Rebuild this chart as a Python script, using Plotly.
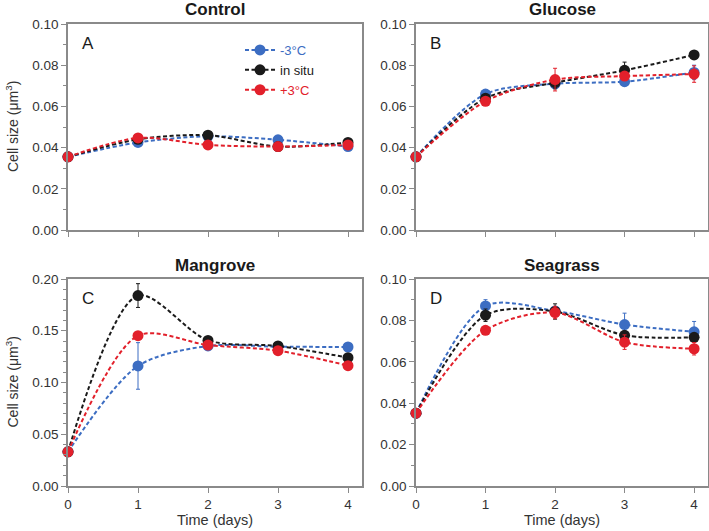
import plotly.graph_objects as go

days = [0, 1, 2, 3, 4]
series_names = ["-3°C", "in situ", "+3°C"]
colors = ["#3C6DC2", "#1A1A1A", "#E2202B"]

panel_titles = ["Control", "Glucose", "Mangrove", "Seagrass"]
panel_letters = ["A", "B", "C", "D"]

# Control
control_m3 = [0.0355, 0.0425, 0.0455, 0.0438, 0.0405]
control_is = [0.0355, 0.0440, 0.0460, 0.0405, 0.0425]
control_p3 = [0.0355, 0.0447, 0.0413, 0.0405, 0.0413]
control_err_m3 = [0.0005, 0.0008, 0.0008, 0.0006, 0.0006]
control_err_is = [0.0005, 0.0008, 0.0008, 0.0006, 0.0006]
control_err_p3 = [0.0005, 0.0008, 0.0008, 0.0006, 0.0006]

# Glucose
glucose_m3 = [0.0355, 0.0660, 0.0710, 0.0720, 0.0765]
glucose_is = [0.0355, 0.0640, 0.0715, 0.0775, 0.0850]
glucose_p3 = [0.0355, 0.0625, 0.0730, 0.0747, 0.0757]
glucose_err_m3 = [0.0005, 0.0015, 0.0015, 0.0010, 0.0035]
glucose_err_is = [0.0005, 0.0015, 0.0030, 0.0040, 0.0010]
glucose_err_p3 = [0.0005, 0.0010, 0.0055, 0.0015, 0.0040]

# Mangrove
mangrove_m3 = [0.0330, 0.1160, 0.1353, 0.1346, 0.1343]
mangrove_is = [0.0330, 0.1840, 0.1407, 0.1353, 0.1240]
mangrove_p3 = [0.0330, 0.1452, 0.1362, 0.1307, 0.1163]
mangrove_err_m3 = [0.0010, 0.0225, 0.0020, 0.0015, 0.0015]
mangrove_err_is = [0.0010, 0.0115, 0.0020, 0.0015, 0.0020]
mangrove_err_p3 = [0.0010, 0.0020, 0.0020, 0.0015, 0.0015]

# Seagrass
seagrass_m3 = [0.0352, 0.0870, 0.0846, 0.0780, 0.0745]
seagrass_is = [0.0352, 0.0825, 0.0843, 0.0728, 0.0718]
seagrass_p3 = [0.0352, 0.0752, 0.0838, 0.0695, 0.0663]
seagrass_err_m3 = [0.0005, 0.0030, 0.0020, 0.0055, 0.0050]
seagrass_err_is = [0.0005, 0.0030, 0.0037, 0.0015, 0.0015]
seagrass_err_p3 = [0.0005, 0.0015, 0.0030, 0.0035, 0.0030]

panels = [
    ([control_m3, control_is, control_p3], [control_err_m3, control_err_is, control_err_p3]),
    ([glucose_m3, glucose_is, glucose_p3], [glucose_err_m3, glucose_err_is, glucose_err_p3]),
    ([mangrove_m3, mangrove_is, mangrove_p3], [mangrove_err_m3, mangrove_err_is, mangrove_err_p3]),
    ([seagrass_m3, seagrass_is, seagrass_p3], [seagrass_err_m3, seagrass_err_is, seagrass_err_p3]),
]

y_ranges = [[0, 0.1], [0, 0.1], [0, 0.2], [0, 0.1]]
y_dticks = [0.02, 0.02, 0.05, 0.02]
y_minor = [0.01, 0.01, 0.01, 0.01]
x_tick_labels = ["0", "1", "2", "3", "4"]

W, H = 709, 531
xdom = [[68 / W, 362 / W], [416 / W, 708 / W], [68 / W, 362 / W], [416 / W, 708 / W]]
ydom = [[1 - 230 / H, 1 - 24 / H], [1 - 230 / H, 1 - 24 / H],
        [1 - 486 / H, 1 - 279 / H], [1 - 486 / H, 1 - 279 / H]]

fig = go.Figure()
font_family = "Liberation Sans, Arial, sans-serif"
axis_col = "#8a8a8a"
text_col = "#333333"

for p, (vals, errs) in enumerate(panels):
    ax = "" if p == 0 else str(p + 1)
    for s in range(3):
        fig.add_trace(go.Scatter(
            x=days, y=vals[s],
            xaxis="x" + ax, yaxis="y" + ax,
            mode="lines+markers",
            name='<span style="color:%s">%s</span>' % (colors[s], series_names[s]),
            showlegend=(p == 0),
            line=dict(color=colors[s], width=2, dash="4px,2.5px", shape="spline", smoothing=0.85),
            marker=dict(color=colors[s], size=11),
            error_y=dict(type="data", array=errs[s], color=colors[s], thickness=1, width=2),
            cliponaxis=False,
        ))

layout = dict(
    template="none",
    width=W, height=H,
    margin=dict(l=0, r=0, t=0, b=0, autoexpand=False),
    paper_bgcolor="white", plot_bgcolor="white",
    font=dict(family=font_family, size=13, color=text_col),
    legend=dict(x=240 / W, y=1 - 35 / H, xanchor="left", yanchor="top",
                bgcolor="rgba(0,0,0,0)", font=dict(size=13),
                tracegroupgap=0, itemwidth=30),
    annotations=[],
)

for p in range(4):
    ax = "" if p == 0 else str(p + 1)
    bottom = p >= 2
    layout["xaxis" + ax] = dict(
        domain=xdom[p], anchor="y" + ax, range=[0, 4.2], automargin=False,
        tickmode="array", tickvals=days, ticktext=x_tick_labels, showticklabels=bottom,
        ticks="outside", ticklen=5, tickcolor=axis_col, tickwidth=1,
        showline=True, linecolor=axis_col, linewidth=1.5, mirror=True,
        showgrid=False, zeroline=False,
        tickfont=dict(size=13.5, color=text_col),
    )
    layout["yaxis" + ax] = dict(
        domain=ydom[p], anchor="x" + ax, range=y_ranges[p], automargin=False,
        dtick=y_dticks[p], tick0=0, tickformat=".2f",
        ticks="outside", ticklen=5, tickcolor=axis_col, tickwidth=1,
        minor=dict(dtick=y_minor[p], ticks="outside", ticklen=3, tickcolor=axis_col, showgrid=False),
        showline=True, linecolor=axis_col, linewidth=1.5, mirror=True,
        showgrid=False, zeroline=False,
        tickfont=dict(size=13.5, color=text_col),
    )
    xc = (xdom[p][0] + xdom[p][1]) / 2
    layout["annotations"].append(dict(
        text="<b>%s</b>" % panel_titles[p], x=xc, y=ydom[p][1] + 14 / H,
        xref="paper", yref="paper", showarrow=False, xanchor="center", yanchor="middle",
        font=dict(size=17, color="#1a1a1a"),
    ))
    layout["annotations"].append(dict(
        text=panel_letters[p], x=xdom[p][0] + 12 / W, y=ydom[p][1] - 19 / H,
        xref="paper", yref="paper", showarrow=False, xanchor="left", yanchor="middle",
        font=dict(size=17, color="#1a1a1a"),
    ))

for yc in [(ydom[0][0] + ydom[0][1]) / 2, (ydom[2][0] + ydom[2][1]) / 2]:
    layout["annotations"].append(dict(
        text="Cell size (μm<sup>3</sup>)", x=12 / W, y=yc, xref="paper", yref="paper",
        showarrow=False, textangle=-90, xanchor="center", yanchor="middle",
        font=dict(size=14, color=text_col),
    ))
for xc in [(xdom[2][0] + xdom[2][1]) / 2, (xdom[3][0] + xdom[3][1]) / 2]:
    layout["annotations"].append(dict(
        text="Time (days)", x=xc, y=1 - 520 / H, xref="paper", yref="paper",
        showarrow=False, xanchor="center", yanchor="middle",
        font=dict(size=14.5, color=text_col),
    ))

fig.update_layout(**layout)
fig.write_html("out.html", config={"displayModeBar": False},
               post_script="document.body.style.margin='0px';")
